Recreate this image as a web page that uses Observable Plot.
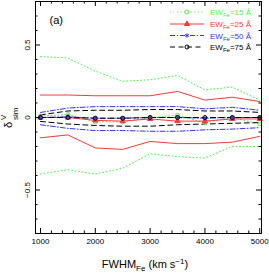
<!DOCTYPE html>
<html><head><meta charset="utf-8">
<script src="https://cdn.jsdelivr.net/npm/d3@7"></script>
<script src="https://cdn.jsdelivr.net/npm/@observablehq/plot@0.6"></script>
<style>body{margin:0;background:#fff}svg{display:block}</style>
</head><body><div id="chart"></div>
<script>
// ---- data ----
const fwhm = [1000, 1500, 2000, 2500, 3000, 3500, 4000, 4500, 5000];
const ew15Mean  = [0.01, 0.02, -0.03, -0.03, 0.0, 0.015, -0.035, 0.0, -0.045];
const ew15Upper = [0.42, 0.41, 0.32, 0.25, 0.26, 0.29, 0.19, 0.21, 0.12];
const ew15Lower = [-0.39, -0.36, -0.39, -0.35, -0.25, -0.27, -0.28, -0.2, -0.2];
const ew25Mean  = [0.0, 0.0, -0.02, -0.025, -0.01, -0.025, -0.025, -0.01, -0.01];
const ew25Upper = [0.155, 0.155, 0.15, 0.15, 0.15, 0.18, 0.12, 0.14, 0.11];
const ew25Lower = [-0.14, -0.12, -0.21, -0.22, -0.165, -0.18, -0.18, -0.17, -0.13];
const ew50Mean  = [0.0, 0.005, -0.005, -0.005, 0.0, 0.0, -0.005, 0.0, 0.0];
const ew50Upper = [0.035, 0.065, 0.075, 0.075, 0.075, 0.075, 0.06, 0.07, 0.05];
const ew50Lower = [-0.05, -0.075, -0.09, -0.09, -0.095, -0.095, -0.085, -0.08, -0.07];
const ew75Mean  = [0.0, 0.0, -0.005, -0.005, 0.0, 0.0, 0.0, 0.0, 0.0];
const ew75Upper = [0.018, 0.045, 0.05, 0.05, 0.055, 0.055, 0.045, 0.045, 0.035];
const ew75Lower = [-0.027, -0.045, -0.055, -0.06, -0.06, -0.05, -0.045, -0.04, -0.035];
const ewLabels = ["15", "25", "50", "75"];
const xMajor = [1000, 2000, 3000, 4000, 5000];
const xMinor = d3.range(1000, 5001, 200).filter(v => v % 1000 !== 0);
const yMajor = [-0.5, 0, 0.5];
const yMinor = [-0.7, -0.6, -0.4, -0.3, -0.2, -0.1, 0.1, 0.2, 0.3, 0.4, 0.6, 0.7];

// ---- styles ----
const series = [
  {ew: ewLabels[0], mean: ew15Mean, upper: ew15Upper, lower: ew15Lower, color: "#4cee4c", dash: "1,2.5", symbol: "circle", fill: "none", r: 2},
  {ew: ewLabels[1], mean: ew25Mean, upper: ew25Upper, lower: ew25Lower, color: "#ff3838", dash: null, symbol: "triangle", fill: "#ff3838", r: 2},
  {ew: ewLabels[2], mean: ew50Mean, upper: ew50Upper, lower: ew50Lower, color: "#3333ff", dash: "5,2,1,2", symbol: "asterisk", fill: "none", r: 2},
  {ew: ewLabels[3], mean: ew75Mean, upper: ew75Upper, lower: ew75Lower, color: "#000000", dash: "5,3.5", symbol: "circle", fill: "none", r: 2}
];

const W = 269, H = 273, mL = 35, mR = 8, mT = 1, mB = 40;
const pw = W - mL - mR, ph = H - mT - mB;
const font = "'Liberation Sans', Arial, sans-serif";

const marks = [];
for (const s of series) {
  const rows = [];
  for (const [kind, arr] of [["mean", s.mean], ["upper", s.upper], ["lower", s.lower]])
    fwhm.forEach((x, i) => rows.push({x, y: arr[i], kind}));
  marks.push(Plot.line(rows, {x: "x", y: "y", z: "kind", stroke: s.color, strokeWidth: 1, strokeDasharray: s.dash}));
}
for (const s of series) {
  const pts = fwhm.map((x, i) => ({x, y: s.mean[i]}));
  marks.push(Plot.dot(pts, {x: "x", y: "y", symbol: s.symbol, r: s.r, stroke: s.color, fill: s.fill, strokeWidth: 1}));
}
// inward ticks on all four sides
marks.push(
  Plot.tickX(xMajor, {x: d => d, insetTop: ph - 5, stroke: "#000"}),
  Plot.tickX(xMajor, {x: d => d, insetBottom: ph - 5, stroke: "#000"}),
  Plot.tickX(xMinor, {x: d => d, insetTop: ph - 2.5, stroke: "#000"}),
  Plot.tickX(xMinor, {x: d => d, insetBottom: ph - 2.5, stroke: "#000"}),
  Plot.tickY(yMajor, {y: d => d, insetRight: pw - 5, stroke: "#000"}),
  Plot.tickY(yMajor, {y: d => d, insetLeft: pw - 5, stroke: "#000"}),
  Plot.tickY(yMinor, {y: d => d, insetRight: pw - 2.5, stroke: "#000"}),
  Plot.tickY(yMinor, {y: d => d, insetLeft: pw - 2.5, stroke: "#000"}),
  Plot.frame({stroke: "#000", strokeWidth: 1}),
  Plot.text(xMajor, {x: d => d, frameAnchor: "bottom", dy: 8, text: d => String(d), fontSize: 8, lineAnchor: "middle", fill: "#000"}),
  Plot.text(yMajor, {y: d => d, frameAnchor: "left", dx: -8.5, rotate: -90, text: d => d === 0 ? "0" : (d < 0 ? "\u2212" : "") + Math.abs(d), fontSize: 8, textAnchor: "middle", lineAnchor: "middle", fill: "#000"}),
  Plot.text(["(a)"], {frameAnchor: "top-left", dx: 14, dy: 19, text: d => d, fontSize: 11, textAnchor: "start", lineAnchor: "middle", fill: "#000"})
);

const chart = Plot.plot({
  width: W, height: H,
  marginLeft: mL, marginRight: mR, marginTop: mT, marginBottom: mB,
  x: {domain: [909, 5032], axis: null},
  y: {domain: [-0.8, 0.8], axis: null},
  style: {fontFamily: font, fontSize: "8px", background: "#fff", overflow: "visible"},
  marks
});
document.getElementById("chart").appendChild(chart);

// ---- rich-text labels and legend ----
const svg = d3.select(chart);
// x label
const xl = svg.append("text").attr("x", 145).attr("y", 268).attr("text-anchor", "middle")
  .attr("font-family", font).attr("font-size", 11).attr("fill", "#000");
xl.append("tspan").text("FWHM");
xl.append("tspan").attr("font-size", 8).attr("dy", 3).text("Fe");
xl.append("tspan").attr("dy", -3).text(" (km s");
xl.append("tspan").attr("font-size", 8).attr("dy", -4).text("\u22121");
xl.append("tspan").attr("dy", 4).text(")");
// y label
const yl = svg.append("g").attr("transform", "translate(11,118) rotate(-90)")
  .attr("font-family", font).attr("fill", "#000").attr("text-anchor", "start");
yl.append("text").attr("x", -10).attr("y", 1).attr("font-size", 11).text("\u03b4");
yl.append("text").attr("x", -2).attr("y", 7).attr("font-size", 8).text("sim");
yl.append("text").attr("x", -2).attr("y", -5).attr("font-size", 8).text("V");
// legend
const rowsY = [12, 24, 35.5, 47];
series.forEach((s, i) => {
  const g = svg.append("g").attr("transform", `translate(0,${rowsY[i]})`).attr("text-anchor", "start");
  g.append("line").attr("x1", 170).attr("x2", 204).attr("y1", 0).attr("y2", 0)
    .attr("stroke", s.color).attr("stroke-width", 1).attr("stroke-dasharray", s.dash);
  const sym = d3.symbol(s.symbol === "circle" ? d3.symbolCircle : s.symbol === "triangle" ? d3.symbolTriangle : d3.symbolAsterisk, 12.5)();
  g.append("path").attr("d", sym).attr("transform", "translate(187,0)")
    .attr("stroke", s.color).attr("fill", s.fill);
  const t = g.append("text").attr("x", 210).attr("y", 3).attr("font-family", font)
    .attr("font-size", 8).attr("fill", s.color);
  t.append("tspan").text("EW");
  t.append("tspan").attr("font-size", 6).attr("dy", 2).text("Fe");
  t.append("tspan").attr("dy", -2).text("=" + s.ew + " \u00c5");
});
</script></body></html>
